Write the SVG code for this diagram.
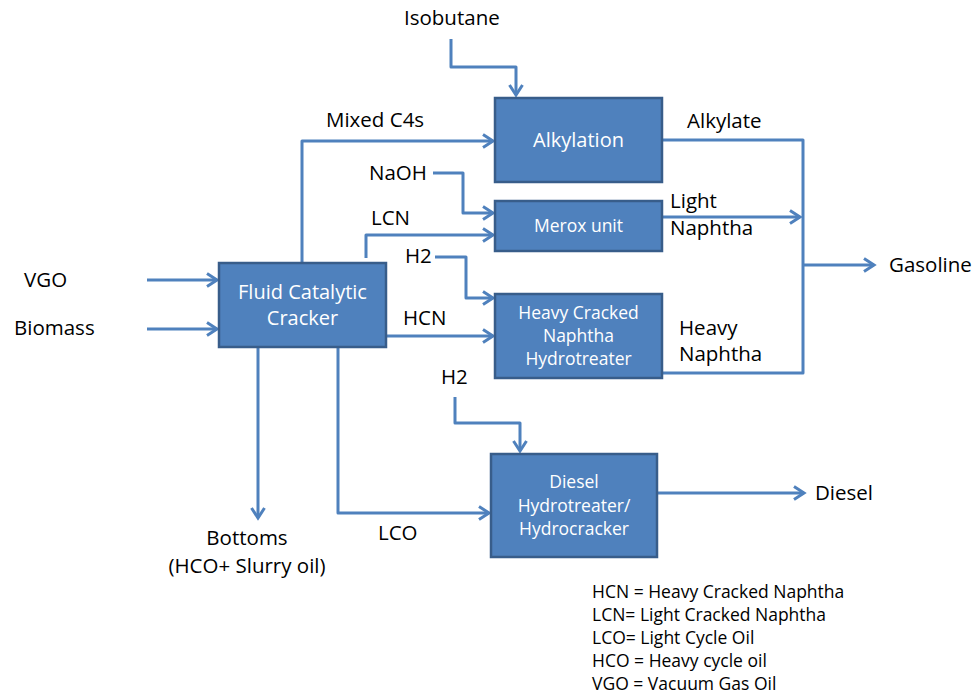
<svg xmlns="http://www.w3.org/2000/svg" width="974" height="695" viewBox="0 0 974 695">
<style>
.box{fill:#4F81BD;stroke:#385D8A;stroke-width:2.5}
.bt{fill:#fff;font-family:"Open Sans","Liberation Sans",sans-serif;text-anchor:middle}
.lbl{fill:#000;font-family:"Open Sans","Liberation Sans",sans-serif;font-size:20.5px}
.leg{fill:#000;font-family:"Open Sans","Liberation Sans",sans-serif;font-size:17.5px}
.c{fill:none;stroke:#4F81BD;stroke-width:3;stroke-linejoin:round}
.a{marker-end:url(#arr)}
</style>
<defs>
<marker id="arr" markerUnits="userSpaceOnUse" markerWidth="20" markerHeight="20" viewBox="-14 -10 20 20" refX="0" refY="0" orient="auto">
<path d="M-10,-6.5 L0,0 L-10,6.5" fill="none" stroke="#4F81BD" stroke-width="3" stroke-linejoin="miter"/>
</marker>
</defs>
<rect width="974" height="695" fill="#fff"/>
<g id="connectors">
<path class="c a" d="M451,39 V67 H516 V95"/>
<path class="c a" d="M302,263 V141 H493"/>
<path class="c a" d="M433,173 H463 V213 H493"/>
<path class="c a" d="M366,258 V235 H493"/>
<path class="c a" d="M435,257 H466 V298 H493"/>
<path class="c a" d="M386,336 H493"/>
<path class="c a" d="M455,397 V423 H520 V451"/>
<path class="c a" d="M338,347 V513 H489"/>
<path class="c a" d="M258,347 V518"/>
<path class="c a" d="M147,280 H217"/>
<path class="c a" d="M147,329 H217"/>
<path class="c" d="M662,140 H803 V373 H662"/>
<path class="c a" d="M662,217 H800"/>
<path class="c a" d="M803,265 H874"/>
<path class="c a" d="M657,493 H804"/>
</g>
<g id="alkylation">
<rect class="box" x="495" y="98" width="167" height="84"/>
<text class="bt" x="578.5" y="147" font-size="20">Alkylation</text>
</g>
<g id="merox">
<rect class="box" x="495" y="201" width="167" height="50"/>
<text class="bt" x="578.5" y="232" font-size="17.5">Merox unit</text>
</g>
<g id="hcnht">
<rect class="box" x="495" y="294" width="167" height="84"/>
<text class="bt" x="578.5" y="319" font-size="17.5">Heavy Cracked</text>
<text class="bt" x="578.5" y="342" font-size="17.5">Naphtha</text>
<text class="bt" x="578.5" y="365" font-size="17.5">Hydrotreater</text>
</g>
<g id="fcc">
<rect class="box" x="219" y="263" width="167" height="84"/>
<text class="bt" x="302.5" y="299" font-size="20">Fluid Catalytic</text>
<text class="bt" x="302.5" y="325" font-size="20">Cracker</text>
</g>
<g id="diesel-ht">
<rect class="box" x="491" y="454" width="166" height="103"/>
<text class="bt" x="574" y="488" font-size="17.5">Diesel</text>
<text class="bt" x="574" y="512" font-size="17.5">Hydrotreater/</text>
<text class="bt" x="574" y="535" font-size="17.5">Hydrocracker</text>
</g>
<g id="labels">
<text class="lbl" x="404" y="25">Isobutane</text>
<text class="lbl" x="326" y="127">Mixed C4s</text>
<text class="lbl" x="369" y="180">NaOH</text>
<text class="lbl" x="371" y="225">LCN</text>
<text class="lbl" x="405" y="263">H2</text>
<text class="lbl" x="403" y="325">HCN</text>
<text class="lbl" x="441" y="384">H2</text>
<text class="lbl" x="378" y="540">LCO</text>
<text class="lbl" x="247" y="545" text-anchor="middle">Bottoms</text>
<text class="lbl" x="247" y="573" text-anchor="middle" font-size="21">(HCO+ Slurry oil)</text>
<text class="lbl" x="24" y="287">VGO</text>
<text class="lbl" x="14" y="335">Biomass</text>
<text class="lbl" x="687" y="128">Alkylate</text>
<text class="lbl" x="670" y="208">Light</text>
<text class="lbl" x="670" y="235">Naphtha</text>
<text class="lbl" x="679" y="335">Heavy</text>
<text class="lbl" x="679" y="361">Naphtha</text>
<text class="lbl" x="889" y="272">Gasoline</text>
<text class="lbl" x="815" y="500">Diesel</text>
</g>
<g id="legend">
<text class="leg" x="592" y="598">HCN = Heavy Cracked Naphtha</text>
<text class="leg" x="592" y="621">LCN= Light Cracked Naphtha</text>
<text class="leg" x="592" y="644">LCO= Light Cycle Oil</text>
<text class="leg" x="592" y="667">HCO = Heavy cycle oil</text>
<text class="leg" x="592" y="690">VGO = Vacuum Gas Oil</text>
</g>
</svg>
